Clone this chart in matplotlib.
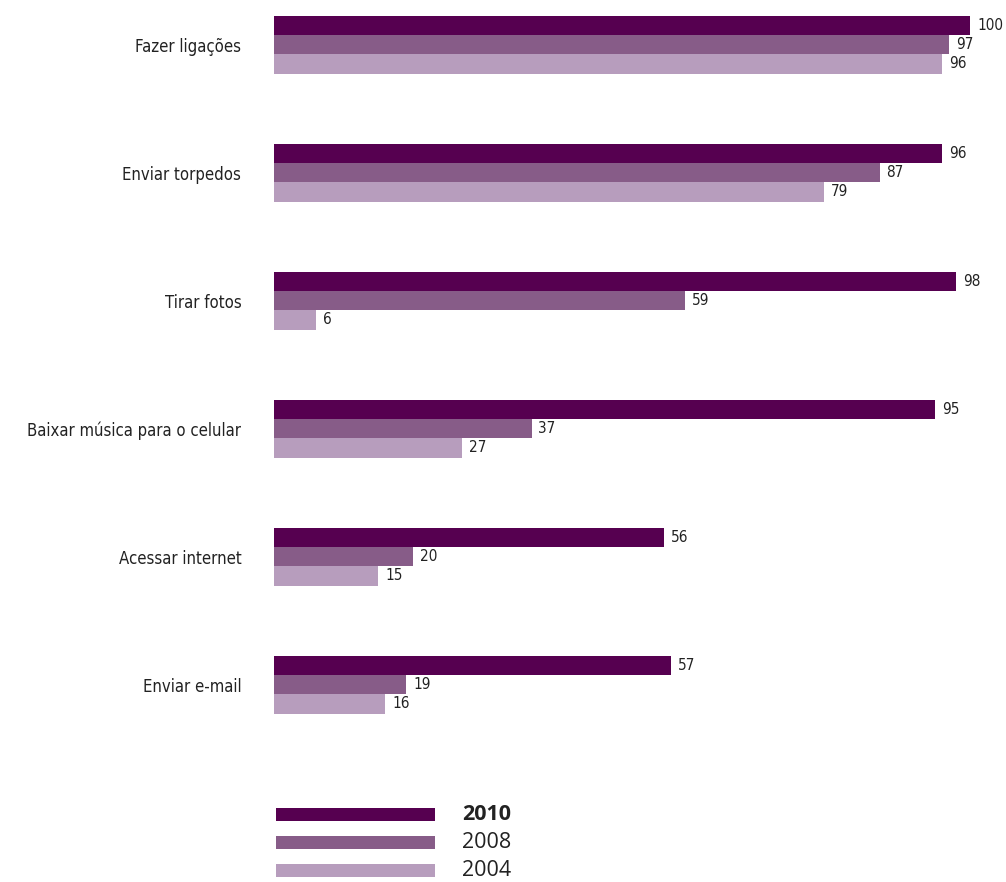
import matplotlib
matplotlib.use("Agg")
import matplotlib.pyplot as plt
import numpy as np

categories = [
    "Fazer ligações",
    "Enviar torpedos",
    "Tirar fotos",
    "Baixar música para o celular",
    "Acessar internet",
    "Enviar e-mail",
]
years = ["2010", "2008", "2004"]
values_2010 = [100, 96, 98, 95, 56, 57]
values_2008 = [97, 87, 59, 37, 20, 19]
values_2004 = [96, 79, 6, 27, 15, 16]
colors = ["#560050", "#875c88", "#b79dbd"]

series = [values_2010, values_2008, values_2004]

label_font = ["DejaVu Sans"]
legend_font = ["Open Sans", "DejaVu Sans"]

W, H = 1006, 882
fig = plt.figure(figsize=(W / 100, H / 100), dpi=100)

# main bar chart
bar_h = 0.15
ax_left, ax_right = 274 / W, 970 / W
top_px = 16
span = 5 + 2 * 1.5 * bar_h
height_px = span * 128
ax = fig.add_axes([ax_left, 1 - (top_px + height_px) / H, ax_right - ax_left, height_px / H])

y = np.arange(len(categories))
offsets = [-bar_h, 0, bar_h]
for vals, off, col in zip(series, offsets, colors):
    ax.barh(y + off, vals, height=bar_h, color=col, linewidth=0)
    for yi, v in zip(y, vals):
        ax.text(v + 1.0, yi + off, str(v), va="center", ha="left",
                fontsize=11, family=label_font, fontstretch="condensed",
                color="#222222")

ax.set_xlim(0, 100)
ax.set_ylim(5 + 1.5 * bar_h, -1.5 * bar_h)
ax.set_yticks(y)
ax.set_yticklabels(categories, family=label_font, fontstretch="condensed",
                   fontsize=12, color="#222222")
ax.tick_params(axis="y", length=0, pad=23.5)
ax.set_xticks([])
for s in ax.spines.values():
    s.set_visible(False)

# legend drawn as small bars
lg_top, lg_bot = 808, 877
lax = fig.add_axes([276 / W, 1 - lg_bot / H, (435 - 276) / W, (lg_bot - lg_top) / H])
ly = np.arange(len(years))
lax.barh(ly, [1] * len(years), height=13 / 28, color=colors, linewidth=0)
lax.set_xlim(0, 1)
lax.set_ylim(2 + 0.232, -0.232)
lax.axis("off")
for i, yr in enumerate(years):
    lax.text((462 - 276) / (435 - 276), i, yr, va="center", ha="left",
             fontsize=15.5, family=legend_font, color="#222222",
             fontweight="bold" if i == 0 else "normal", clip_on=False)

fig.savefig("out.png", dpi=100)
